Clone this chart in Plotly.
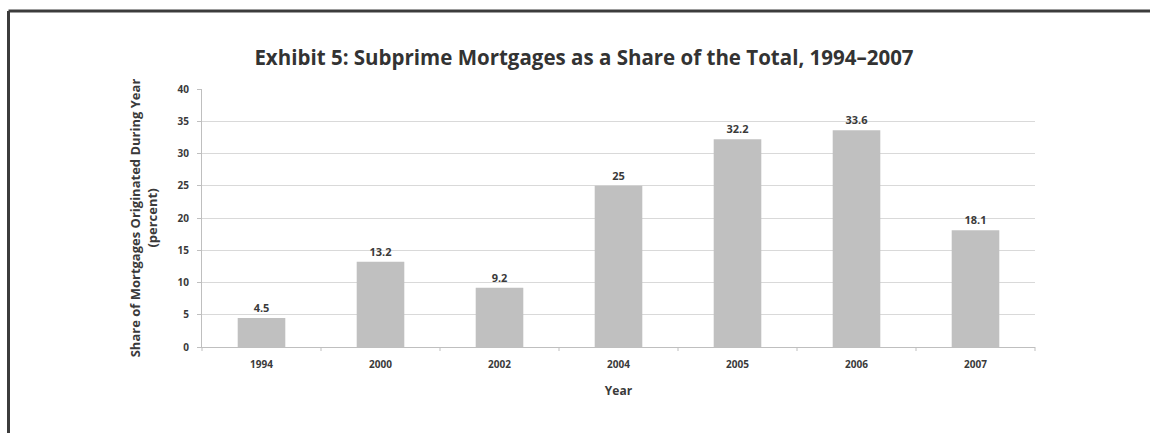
import plotly.graph_objects as go

# Data
years = ["1994", "2000", "2002", "2004", "2005", "2006", "2007"]
share = [4.5, 13.2, 9.2, 25, 32.2, 33.6, 18.1]
share_labels = ["4.5", "13.2", "9.2", "25", "32.2", "33.6", "18.1"]
y_ticks = [0, 5, 10, 15, 20, 25, 30, 35, 40]

FONT = "Open Sans"
TEXT = "#3a3a3a"

W, H = 1150, 433
L, R, T, B = 202, 115, 89, 86
pw, ph = W - L - R, H - T - B

fig = go.Figure()
fig.add_trace(go.Bar(
    x=years, y=share,
    marker=dict(color="#c0c0c0", line=dict(width=0)),
    text=share_labels, textposition="outside",
    textfont=dict(family=FONT, size=11, color=TEXT, weight="bold"),
    cliponaxis=False,
))

# outer frame (top and left edges)
def px_x(px):
    return (px - L) / pw

def px_y(py):
    return 1 + (T - py) / ph

frame = dict(color="#3c3c3c", width=3)
fig.add_shape(type="line", xref="paper", yref="paper",
              x0=px_x(8.5), x1=px_x(1155), y0=px_y(11), y1=px_y(11), line=frame)
fig.add_shape(type="line", xref="paper", yref="paper",
              x0=px_x(8.5), x1=px_x(8.5), y0=px_y(11), y1=px_y(440), line=frame)

fig.update_layout(
    width=W, height=H,
    margin=dict(l=L, r=R, t=T, b=B),
    paper_bgcolor="white", plot_bgcolor="white",
    bargap=0.6,
    showlegend=False,
    title=dict(
        text="Exhibit 5: Subprime Mortgages as a Share of the Total, 1994–2007",
        x=584 / W, xanchor="center", y=1 - 58 / H, yanchor="middle",
        font=dict(family=FONT, size=20.5, color="#333333", weight="bold"),
    ),
    xaxis=dict(
        showline=True, linecolor="#bfbfbf", linewidth=1,
        ticks="", ticklabelstandoff=8,
        tickfont=dict(family=FONT, size=10, color=TEXT, weight="bold"),
        title=dict(text="Year", font=dict(family=FONT, size=12, color=TEXT, weight="bold"), standoff=16),
    ),
    yaxis=dict(
        range=[0, 40], tickvals=y_ticks, showgrid=True, gridcolor="#d9d9d9", gridwidth=1,
        showline=True, linecolor="#bfbfbf", linewidth=1,
        ticks="outside", ticklen=4, tickcolor="#bfbfbf", ticklabelstandoff=6,
        tickfont=dict(family=FONT, size=10, color=TEXT, weight="bold"),
        zeroline=False,
        title=dict(text="Share of Mortgages Originated During Year<br>(percent)",
                   font=dict(family=FONT, size=13, color=TEXT, weight="bold"), standoff=17),
    ),
)

# x-axis tick marks between categories
for i in range(len(years) + 1):
    xp = i / len(years)
    fig.add_shape(type="line", xref="paper", yref="paper",
                  x0=xp, x1=xp, y0=0, y1=-4 / ph, line=dict(color="#bfbfbf", width=1))

fig.write_html("out.html")
